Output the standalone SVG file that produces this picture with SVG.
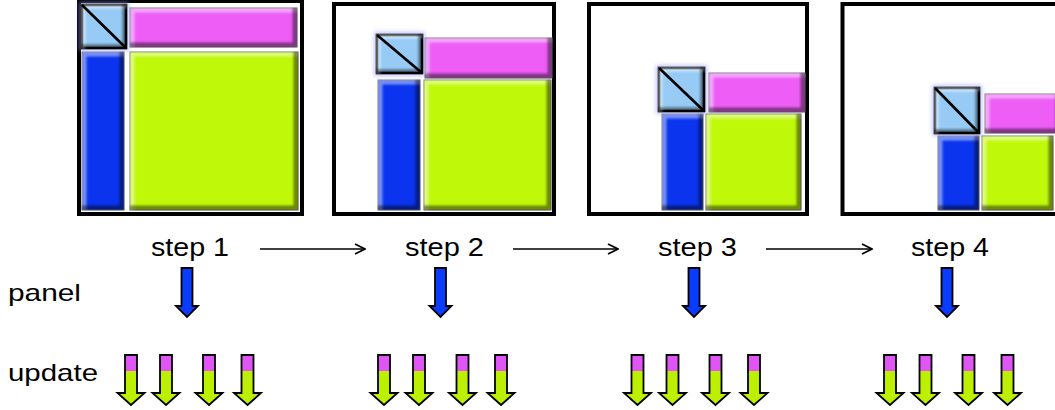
<svg xmlns="http://www.w3.org/2000/svg" width="1055" height="410" viewBox="0 0 1055 410">
<defs>
<style>
.frame{fill:#fff;stroke:#000;stroke-width:4}
.blk{stroke:#6e6e6e;stroke-width:1;filter:url(#bevel)}
.lb{fill:#97cbf5;stroke:#000;stroke-width:2.6;filter:url(#bevel)}
.diag{stroke:#000;stroke-width:2.6;fill:none}
.glow{fill:#8d98ff;opacity:0.55;filter:url(#blur)}
.mag{fill:#ee5ef6}
.blue{fill:#0a34ee}
.green{fill:#c0f80a}
.lbl{font-family:"Liberation Sans",Arial,sans-serif;font-size:26px;fill:#000}
.side{font-family:"Liberation Sans",Arial,sans-serif;font-size:24px;fill:#000}
.conn{stroke:#000;stroke-width:1.6;fill:none;marker-end:url(#chev)}
.arrowline{stroke:#000;stroke-width:1.8;stroke-linejoin:miter}
</style>
<filter id="bevel" x="-5%" y="-5%" width="110%" height="110%" color-interpolation-filters="sRGB">
<feOffset in="SourceAlpha" dx="5" dy="5" result="o1"/>
<feComposite in="SourceAlpha" in2="o1" operator="out" result="tl"/>
<feGaussianBlur in="tl" stdDeviation="1" result="tlb"/>
<feComposite in="tlb" in2="SourceAlpha" operator="in" result="tlc"/>
<feFlood flood-color="#ffffff" flood-opacity="0.45"/>
<feComposite in2="tlc" operator="in" result="hi"/>
<feOffset in="SourceAlpha" dx="-5" dy="-5" result="o2"/>
<feComposite in="SourceAlpha" in2="o2" operator="out" result="br"/>
<feGaussianBlur in="br" stdDeviation="1" result="brb"/>
<feComposite in="brb" in2="SourceAlpha" operator="in" result="brc"/>
<feFlood flood-color="#000000" flood-opacity="0.45"/>
<feComposite in2="brc" operator="in" result="sh"/>
<feMerge><feMergeNode in="SourceGraphic"/><feMergeNode in="hi"/><feMergeNode in="sh"/></feMerge>
</filter>
<filter id="blur" x="-30%" y="-30%" width="160%" height="160%"><feGaussianBlur stdDeviation="2"/></filter>
<marker id="chev" viewBox="0 0 12 12" refX="11" refY="6" markerWidth="12" markerHeight="12" markerUnits="userSpaceOnUse" orient="auto">
<path d="M1,1 L11,6 L1,11" fill="none" stroke="#000" stroke-width="1.8"/>
</marker>
<g id="upd">
<path d="M-6,0 H6 V38 H13.5 L0,50 L-13.5,38 H-6 Z" fill="#bdf000"/>
<rect x="-6" y="0" width="12" height="16" fill="#e055f5"/>
<path d="M-6,0 H6 V38 H13.5 L0,50 L-13.5,38 H-6 Z" fill="none" class="arrowline"/>
</g>
<g id="pan">
<path d="M-5.5,0 H5.5 V38 H11 L0,49 L-11,38 H-5.5 Z" fill="#0a3cff" class="arrowline"/>
</g>
</defs>
<rect width="1055" height="410" fill="#fff"/>

<g id="panel1">
<rect class="frame" x="79" y="1" width="223" height="213"/>
<rect class="blk mag" x="130" y="8" width="167" height="39"/>
<rect class="blk blue" x="82" y="52" width="42" height="158"/>
<rect class="blk green" x="130" y="52" width="168" height="158"/>
<rect class="glow" x="79" y="2" width="50" height="49"/>
<rect class="lb" x="82" y="5" width="44" height="43"/>
<line class="diag" x1="82" y1="5" x2="126" y2="48"/>
</g>

<g id="panel2">
<rect class="frame" x="334" y="4" width="220" height="210"/>
<rect class="blk mag" x="425" y="38" width="127" height="40"/>
<rect class="blk blue" x="378" y="80" width="42" height="130"/>
<rect class="blk green" x="424" y="80" width="127" height="130"/>
<rect class="glow" x="374" y="32" width="51" height="44"/>
<rect class="lb" x="377" y="35" width="45" height="38"/>
<line class="diag" x1="377" y1="35" x2="422" y2="73"/>
</g>

<g id="panel3">
<rect class="frame" x="589" y="4" width="218" height="210"/>
<rect class="blk mag" x="709" y="73" width="96" height="39"/>
<rect class="blk blue" x="662" y="114" width="41" height="96"/>
<rect class="blk green" x="706" y="114" width="95" height="96"/>
<rect class="glow" x="656" y="65" width="51" height="49"/>
<rect class="lb" x="659" y="68" width="45" height="43"/>
<line class="diag" x1="659" y1="68" x2="704" y2="111"/>
</g>

<g id="panel4">
<rect class="frame" x="842.5" y="4" width="220" height="210"/>
<rect class="blk mag" x="985" y="94" width="75" height="39"/>
<rect class="blk blue" x="938" y="136" width="41" height="74"/>
<rect class="blk green" x="982" y="136" width="71" height="74"/>
<rect class="glow" x="932" y="85" width="50" height="51"/>
<rect class="lb" x="935" y="88" width="44" height="45"/>
<line class="diag" x1="935" y1="88" x2="979" y2="133"/>
</g>

<g id="labels">
<text class="lbl" x="151" y="256" textLength="78" lengthAdjust="spacingAndGlyphs">step 1</text>
<text class="lbl" x="405" y="256" textLength="79" lengthAdjust="spacingAndGlyphs">step 2</text>
<text class="lbl" x="658" y="256" textLength="79" lengthAdjust="spacingAndGlyphs">step 3</text>
<text class="lbl" x="911" y="256" textLength="78" lengthAdjust="spacingAndGlyphs">step 4</text>
<text class="side" x="8" y="301" textLength="73" lengthAdjust="spacingAndGlyphs">panel</text>
<text class="side" x="8" y="381" textLength="90" lengthAdjust="spacingAndGlyphs">update</text>
</g>

<g id="connectors">
<line class="conn" x1="260" y1="249" x2="365" y2="249"/>
<line class="conn" x1="513" y1="249" x2="618" y2="249"/>
<line class="conn" x1="766" y1="249" x2="872" y2="249"/>
</g>

<g id="panel-arrows">
<use href="#pan" x="187" y="268"/>
<use href="#pan" x="440.5" y="268"/>
<use href="#pan" x="694" y="268"/>
<use href="#pan" x="947" y="268"/>
</g>

<g id="update-arrows">
<use href="#upd" x="131" y="355"/>
<use href="#upd" x="166" y="355"/>
<use href="#upd" x="209" y="355"/>
<use href="#upd" x="247.5" y="355"/>
<use href="#upd" x="384" y="355"/>
<use href="#upd" x="419" y="355"/>
<use href="#upd" x="462.5" y="355"/>
<use href="#upd" x="501" y="355"/>
<use href="#upd" x="637.5" y="355"/>
<use href="#upd" x="672.5" y="355"/>
<use href="#upd" x="715.5" y="355"/>
<use href="#upd" x="754" y="355"/>
<use href="#upd" x="890" y="355"/>
<use href="#upd" x="925.5" y="355"/>
<use href="#upd" x="968.5" y="355"/>
<use href="#upd" x="1007.5" y="355"/>
</g>
</svg>
